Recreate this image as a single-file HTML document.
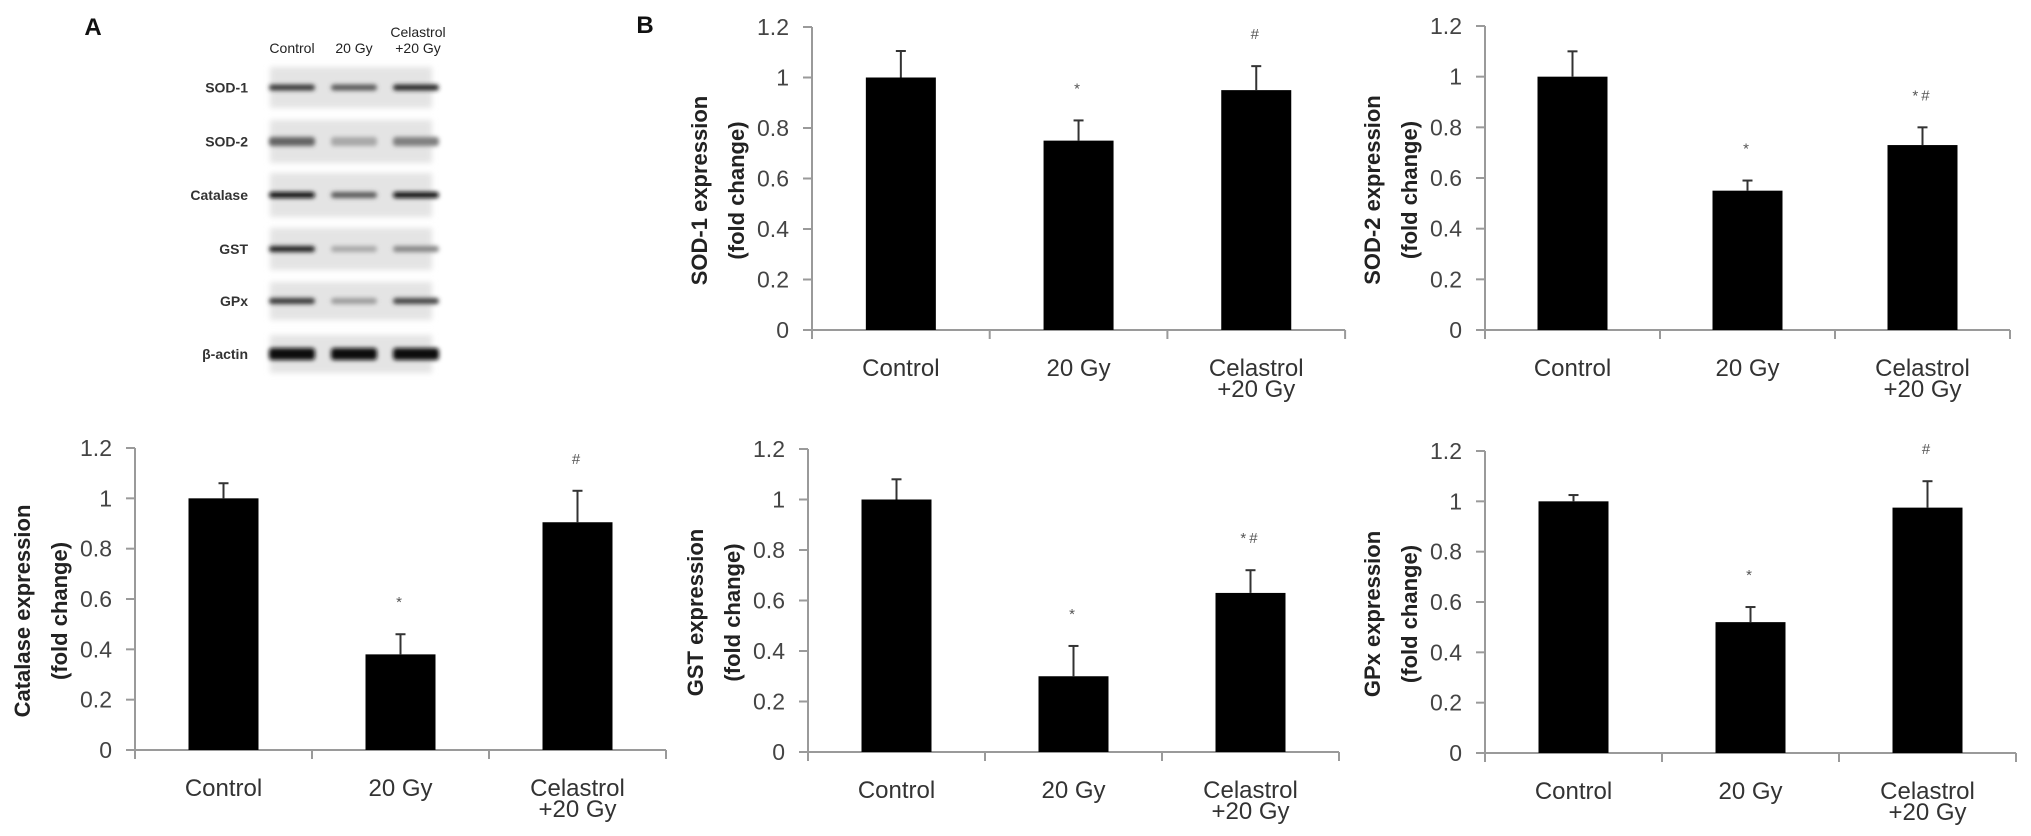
<!DOCTYPE html>
<html><head><meta charset="utf-8">
<style>
html,body{margin:0;padding:0;background:#fff;}
svg{display:block;}
text{font-family:"Liberation Sans",Arial,sans-serif;}
</style></head>
<body>
<svg id="fig" width="2031" height="836" viewBox="0 0 2031 836" xmlns="http://www.w3.org/2000/svg">
<defs>
<filter id="blur2" x="-20%" y="-100%" width="140%" height="300%"><feGaussianBlur stdDeviation="2.2"/></filter>
<filter id="blur4" x="-20%" y="-50%" width="140%" height="200%"><feGaussianBlur stdDeviation="3"/></filter>
</defs>
<text x="93" y="35" font-size="24" font-weight="bold" text-anchor="middle" fill="#111">A</text>
<text x="645" y="33" font-size="24" font-weight="bold" text-anchor="middle" fill="#111">B</text>
<g id="blot"></g>
<g id="charts"></g>
</svg>
<script>
// ---- chart data ----
const categories = ["Control", "20 Gy", "Celastrol|+20 Gy"];
const yTicks = [0, 0.2, 0.4, 0.6, 0.8, 1, 1.2];
const yTickLabels = ["0", "0.2", "0.4", "0.6", "0.8", "1", "1.2"];

const sod1Values = [1.0, 0.75, 0.95];
const sod1Errors = [0.105, 0.08, 0.095];
const sod1Marks = ["", "*", "#"];

const sod2Values = [1.0, 0.55, 0.73];
const sod2Errors = [0.10, 0.04, 0.07];
const sod2Marks = ["", "*", "*#"];

const catalaseValues = [1.0, 0.38, 0.905];
const catalaseErrors = [0.06, 0.08, 0.125];
const catalaseMarks = ["", "*", "#"];

const gstValues = [1.0, 0.30, 0.63];
const gstErrors = [0.08, 0.12, 0.09];
const gstMarks = ["", "*", "*#"];

const gpxValues = [1.0, 0.52, 0.975];
const gpxErrors = [0.025, 0.06, 0.105];
const gpxMarks = ["", "*", "#"];

// blot data
const blotRows = ["SOD-1", "SOD-2", "Catalase", "GST", "GPx", "β-actin"];
const blotIntensity = [
  [0.8, 0.65, 0.88],
  [0.6, 0.3, 0.48],
  [1.0, 0.65, 1.0],
  [0.9, 0.3, 0.45],
  [0.8, 0.35, 0.75],
  [1.0, 1.0, 1.0]
];

const NS = "http://www.w3.org/2000/svg";
function mk(tag, attrs, parent) {
  const e = document.createElementNS(NS, tag);
  for (const k in attrs) e.setAttribute(k, attrs[k]);
  if (parent) parent.appendChild(e);
  return e;
}

// ---- layout (positions, not data) ----
const panels = [
  {key:"sod1", title:"SOD-1 expression", vals:sod1Values, errs:sod1Errors, marks:sod1Marks, ax:812, cw:177.7, zero:330, top:27},
  {key:"sod2", title:"SOD-2 expression", vals:sod2Values, errs:sod2Errors, marks:sod2Marks, ax:1485, cw:175, zero:330, top:26},
  {key:"catalase", title:"Catalase expression", vals:catalaseValues, errs:catalaseErrors, marks:catalaseMarks, ax:135, cw:177, zero:750, top:448},
  {key:"gst", title:"GST expression", vals:gstValues, errs:gstErrors, marks:gstMarks, ax:808, cw:177, zero:752, top:449},
  {key:"gpx", title:"GPx expression", vals:gpxValues, errs:gpxErrors, marks:gpxMarks, ax:1485, cw:177, zero:753, top:451}
];

const chartsG = document.getElementById("charts");
panels.forEach(p => {
  const g = mk("g", {}, chartsG);
  
  
  const yMax = 1.2;
  const y = v => p.zero - (v / yMax) * (p.zero - p.top);
  const xc = i => p.ax + p.cw * (i + 0.5);
  const xEnd = p.ax + p.cw * categories.length;
  // y axis
  const ya = mk("line", {x1:p.ax, y1:y(1.2), x2:p.ax, y2:p.zero + 9, stroke:"#9a9a9a", "stroke-width":2}, g);
  
  
  yTicks.forEach((t, k) => {
    const tl = mk("line", {x1:p.ax - 9, y1:y(t), x2:p.ax, y2:y(t), stroke:"#9a9a9a", "stroke-width":2}, g);
    
    
    const tx = mk("text", {x:p.ax - 23, y:y(t) + 8, "font-size":23, "text-anchor":"end", fill:"#444"}, g);
    tx.textContent = yTickLabels[k];
    
    
  });
  // x axis
  const xa = mk("line", {x1:p.ax - 9, y1:p.zero, x2:xEnd, y2:p.zero, stroke:"#9a9a9a", "stroke-width":2}, g);
  
  
  for (let i = 1; i <= categories.length; i++) {
    const xt = mk("line", {x1:p.ax + p.cw * i, y1:p.zero, x2:p.ax + p.cw * i, y2:p.zero + 9, stroke:"#9a9a9a", "stroke-width":2}, g);
    
    
  }
  // bars
  const bw = 70;
  p.vals.forEach((v, i) => {
    const b = mk("rect", {x:xc(i) - bw / 2, y:y(v), width:bw, height:p.zero - y(v), fill:"#000"}, g);
    
    
    const et = y(v + p.errs[i]);
    const e1 = mk("line", {x1:xc(i), y1:y(v), x2:xc(i), y2:et, stroke:"#333", "stroke-width":2}, g);
    
    
    const e2 = mk("line", {x1:xc(i) - 5, y1:et, x2:xc(i) + 5, y2:et, stroke:"#333", "stroke-width":2}, g);
    
    
    if (p.marks[i]) {
      const m = mk("text", {x:xc(i), y:et - 34 + 7, "font-size":15, "text-anchor":"middle", fill:"#555", "letter-spacing":"3"}, g);
      m.textContent = p.marks[i];
      
      
    }
    const lines = categories[i].split("|");
    lines.forEach((ln, j) => {
      const ct = mk("text", {x:xc(i), y:p.zero + 46 + j * 21 - (lines.length > 1 ? 0 : 0), "font-size":24, "text-anchor":"middle", fill:"#333"}, g);
      ct.textContent = ln;
      
      
    });
  });
  // y title
  const cy = (p.top + p.zero) / 2 + 12;
  ["", "(fold change)"].forEach((ln, j) => {
    const lx = p.ax - 113 + j * 37 + 8;
    const t = mk("text", {x:lx, y:cy, "font-size":22, "font-weight":"bold", "text-anchor":"middle", fill:"#222", transform:"rotate(-90 " + lx + " " + cy + ")"}, g);
    t.textContent = j === 0 ? p.title : ln;
    
    
  });
});

// ---- western blot ----
const blotG = document.getElementById("blot");
const laneX = [292, 354, 416];
const laneHeads = [["Control"], ["20 Gy"], ["Celastrol", "+20 Gy"]];
laneHeads.forEach((h, i) => {
  h.forEach((ln, j) => {
    const t = mk("text", {x:laneX[i] + (i === 2 ? 2 : 0), y: (h.length > 1 ? 37 + j * 16 : 53), "font-size":14, "text-anchor":"middle", fill:"#222"}, blotG);
    t.textContent = ln;
    
    
  });
});
const boxTops = [67, 120, 173, 228, 282, 335];
const boxH = [41, 43, 44, 42, 38, 38];
blotRows.forEach((r, k) => {
  const box = mk("rect", {x:270, y:boxTops[k], width:162, height:boxH[k], fill:"#e4e4e4", filter:"url(#blur4)"}, blotG);
  
  
  const cy = boxTops[k] + boxH[k] / 2;
  const lt = mk("text", {x:248, y:cy + 5, "font-size":14, "font-weight":"bold", "text-anchor":"end", fill:"#333"}, blotG);
  lt.textContent = r;
  
  
  blotIntensity[k].forEach((v, i) => {
    const g = Math.round(235 - v * 225);
    const h = k === 5 ? 12 : (k === 1 ? 9 : 6);
    const band = mk("rect", {x:laneX[i] - 23, y:cy - h / 2, width:46, height:h, rx:3, fill:"rgb(" + g + "," + g + "," + g + ")", filter:"url(#blur2)"}, blotG);
    
    
  });
});
</script>
</body></html>
